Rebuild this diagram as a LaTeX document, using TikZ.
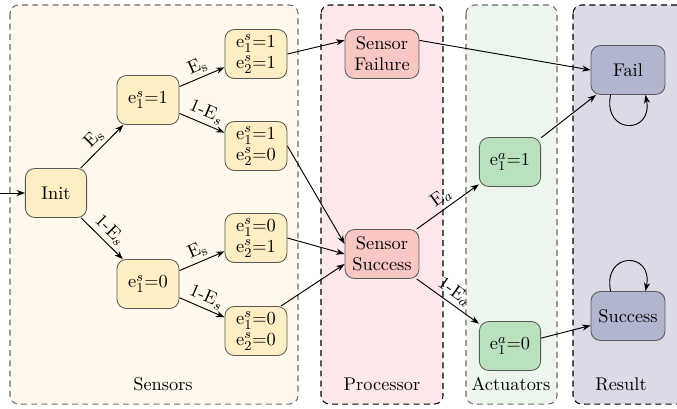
\documentclass[tikz,border=0pt]{standalone}
\usetikzlibrary{arrows.meta,calc}

\definecolor{senBg}{HTML}{FEF9EC}
\definecolor{senFill}{HTML}{FDEEC4}
\definecolor{proBg}{HTML}{FCE8E8}
\definecolor{proFill}{HTML}{F8C7C3}
\definecolor{actBg}{HTML}{ECF6EC}
\definecolor{actFill}{HTML}{B9E1BE}
\definecolor{resBg}{HTML}{DADBE7}
\definecolor{resFill}{HTML}{B1B5CE}
\definecolor{borderGray}{HTML}{5A5A5A}

\tikzset{
  every node/.style={font=\fontsize{10.8}{12.3}\selectfont},
  region/.style={dashed, dash pattern=on 3.5pt off 2.5pt, line width=0.6pt, rounded corners=5pt},
  state/.style={draw=borderGray, line width=0.5pt, rounded corners=5.5pt, align=center,
    inner sep=0pt, minimum height=28.8pt},
  sen/.style={state, fill=senFill, minimum width=36.5pt},
  pro/.style={state, fill=proFill, minimum width=43.5pt},
  act/.style={state, fill=actFill, minimum width=36pt},
  res/.style={state, fill=resFill, minimum width=43.5pt},
  edge/.style={-{Stealth[length=5pt,width=3.6pt]}, line width=0.55pt},
  lbl/.style={sloped, above, inner sep=2pt},
  title/.style={inner sep=0pt}
}

\begin{document}
\begin{tikzpicture}[x=0.5882pt,y=-0.5882pt]
\useasboundingbox (0,0) rectangle (677,408);

% column backgrounds
\path[region, fill=senBg, draw=gray!85!black] (10,5) rectangle (298,404);
\path[region, fill=proBg, draw=black] (321,5) rectangle (443,404);
\path[region, fill=actBg, draw=gray!85!black] (466,5) rectangle (557,404);
\path[region, fill=resBg, draw=black] (573,5) rectangle (700,404);

\node[title] (tS) at (163,384) {Sensors};
\node[title] (tP) at (382,384) {Processor};
\node[title] (tA) at (511,384) {Actuators};
\node[title] (tR) at (621,384) {Result};

% sensor states
\node[sen, minimum width=36pt] (init) at (56,193) {Init};
\node[sen] (s1) at (148,100) {e$^s_1$=1};
\node[sen] (s0) at (148,284) {e$^s_1$=0};
\node[sen] (s11) at (256,54) {e$^s_1$=1\\e$^s_2$=1};
\node[sen] (s10) at (256,146) {e$^s_1$=1\\e$^s_2$=0};
\node[sen] (s01) at (256,238) {e$^s_1$=0\\e$^s_2$=1};
\node[sen] (s00) at (256,331) {e$^s_1$=0\\e$^s_2$=0};

% processor states
\node[pro] (sf) at (382,54) {Sensor\\Failure};
\node[pro] (ss) at (382,254) {Sensor\\Success};

% actuator states
\node[act] (a1) at (510,162) {e$^a_1$=1};
\node[act] (a0) at (510,346) {e$^a_1$=0};

% results
\node[res] (fail) at (628,70) {Fail};
\node[res] (succ) at (628,316) {Success};

% transitions
\coordinate (entry) at (0,193);
\draw[edge] (entry) -- (init);
\draw[edge] (init) -- node[lbl]{E$_\mathrm{s}$} (s1);
\draw[edge] (init) -- node[lbl]{1-E$_s$} (s0);
\draw[edge] (s1) -- node[lbl]{E$_\mathrm{s}$} (s11);
\draw[edge] (s1) -- node[lbl]{1-E$_s$} (s10);
\draw[edge] (s0) -- node[lbl]{E$_\mathrm{s}$} (s01);
\draw[edge] (s0) -- node[lbl]{1-E$_s$} (s00);

\draw[edge] (s11.east) -- (sf.160);
\draw[edge] (s10.east) -- (ss.165);
\draw[edge] (s01.east) -- (ss.west);
\draw[edge] (s00.45) -- (ss.195);

\draw[edge] (sf.20) -- (fail.west);
\draw[edge] (ss) -- node[lbl]{E$_a$} (a1);
\draw[edge] (ss) -- node[lbl]{1-E$_a$} (a0);
\draw[edge] (a1) -- (fail);
\draw[edge] (a0) -- (succ);

% self loops
\draw[edge] (fail.-125) .. controls +(-8,40) and +(8,40) .. (fail.-55);
\draw[edge] (succ.125) .. controls +(-8,-40) and +(8,-40) .. (succ.55);
\end{tikzpicture}
\end{document}
